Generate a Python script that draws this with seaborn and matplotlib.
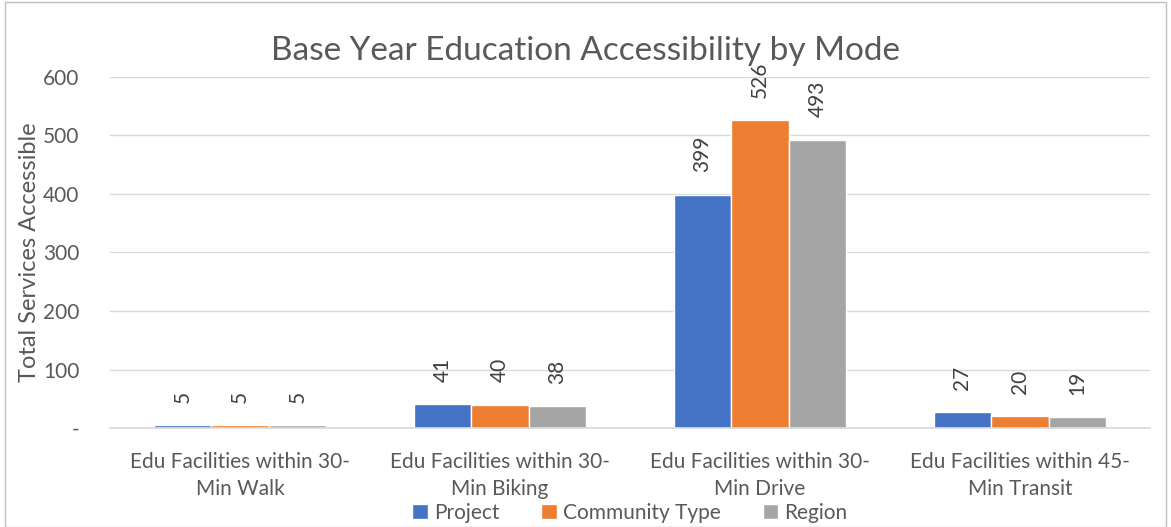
import matplotlib
matplotlib.use("Agg")
import matplotlib.pyplot as plt
import seaborn as sns
import pandas as pd
from matplotlib.patches import Rectangle

categories = ["Edu Facilities within 30-\nMin Walk", "Edu Facilities within 30-\nMin Biking",
              "Edu Facilities within 30-\nMin Drive", "Edu Facilities within 45-\nMin Transit"]
series = ["Project", "Community Type", "Region"]
project = [5, 41, 399, 27]
community = [5, 40, 526, 20]
region = [5, 38, 493, 19]
colors = ["#4472C4", "#ED7D31", "#A5A5A5"]
yticks = [0, 100, 200, 300, 400, 500, 600]
yticklabels = ["-", "100", "200", "300", "400", "500", "600"]

df = pd.DataFrame({
    "cat": categories * 3,
    "series": [series[0]] * 4 + [series[1]] * 4 + [series[2]] * 4,
    "value": project + community + region,
})

sns.set_theme(style="white")
plt.rcParams["font.family"] = ["Lato", "DejaVu Sans"]
txt = "#595959"

fig = plt.figure(figsize=(11.71, 5.27), dpi=100)
ax = fig.add_axes([110 / 1171, 1 - 428 / 527, 1040 / 1171, 351 / 527])
sns.barplot(data=df, x="cat", y="value", hue="series", palette=colors,
            width=0.665, saturation=1, ax=ax, legend=True)

ax.set_ylim(0, 600)
ax.set_yticks(yticks)
ax.set_yticklabels(yticklabels, fontsize=15, color=txt)
ax.yaxis.grid(True, color="#D9D9D9", linewidth=1)
ax.set_axisbelow(True)
for s in ["top", "right", "left"]:
    ax.spines[s].set_visible(False)
ax.spines["bottom"].set_color("#D9D9D9")
ax.tick_params(axis="y", length=0, pad=22)
ax.tick_params(axis="x", length=0, pad=17)
for lbl in ax.get_xticklabels():
    lbl.set_fontsize(15)
    lbl.set_color(txt)
    lbl.set_linespacing(1.45)
ax.set_xlabel("")
ax.set_ylabel("Total Services Accessible", fontsize=17, color=txt, labelpad=2)

for cont in ax.containers:
    ax.bar_label(cont, labels=[f"{v:.0f}" for v in cont.datavalues], rotation=90,
                 padding=16, fontsize=15, color="#404040")

ax.legend(loc="upper center", bbox_to_anchor=(0.5, -0.183), ncol=3, frameon=False,
          fontsize=15, labelcolor=txt, handlelength=0.75, handleheight=0.75,
          handletextpad=0.3, columnspacing=2.0, borderpad=0)

fig.text(0.5, 1 - 51 / 527, "Base Year Education Accessibility by Mode", ha="center", va="center",
         fontsize=24, color=txt)
fig.patches.append(Rectangle((5 / 1171, 0), 1 - 10 / 1171, 1 - 2 / 527, transform=fig.transFigure,
                             fill=False, edgecolor="#BFBFBF", linewidth=1))

fig.savefig("out.png", dpi=100)
